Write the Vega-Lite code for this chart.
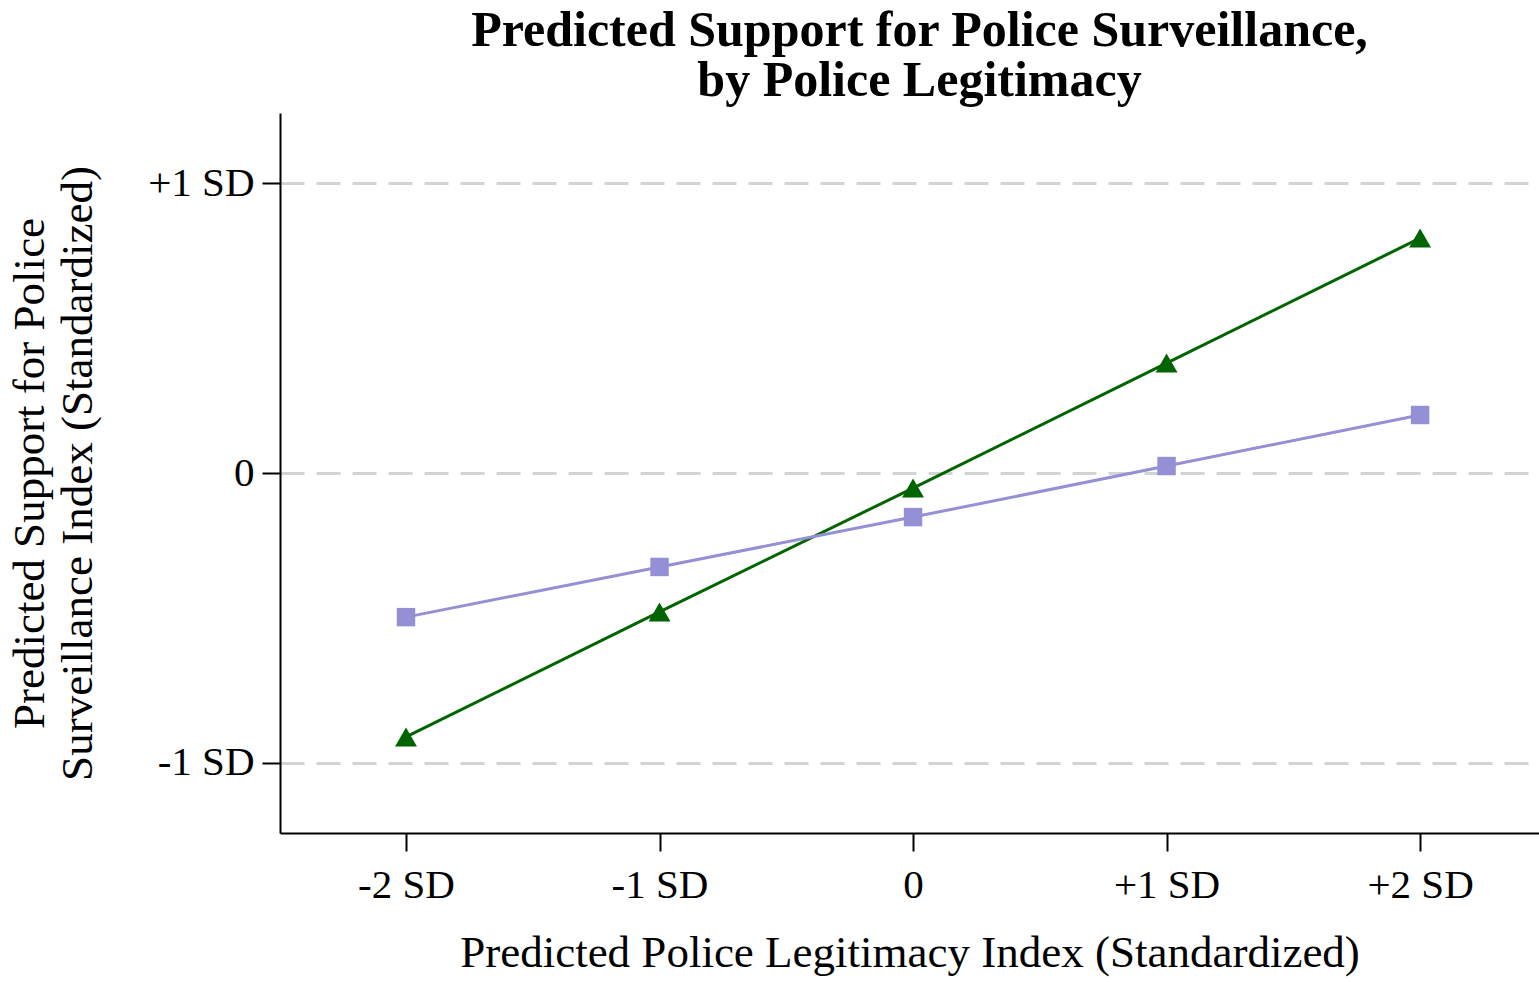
{
  "$schema": "https://vega.github.io/schema/vega-lite/v6.json",
  "autosize": {"type": "none"},
  "width": 1259,
  "height": 720,
  "padding": {"left": 280, "top": 113, "right": 0, "bottom": 149},
  "background": "white",
  "config": {
    "view": {"stroke": null},
    "font": "Liberation Serif"
  },
  "title": {
    "text": ["Predicted Support for Police Surveillance,", "by Police Legitimacy"],
    "font": "Liberation Serif",
    "fontSize": 50,
    "fontWeight": "bold",
    "color": "black",
    "anchor": "middle",
    "lineHeight": 50,
    "offset": 7,
    "dx": 10
  },
  "data": {
    "values": [
      {"x": -2, "y": -0.91, "group": "A"},
      {"x": -1, "y": -0.479, "group": "A"},
      {"x": 0, "y": -0.052, "group": "A"},
      {"x": 1, "y": 0.379, "group": "A"},
      {"x": 2, "y": 0.81, "group": "A"},
      {"x": -2, "y": -0.497, "group": "B"},
      {"x": -1, "y": -0.324, "group": "B"},
      {"x": 0, "y": -0.152, "group": "B"},
      {"x": 1, "y": 0.024, "group": "B"},
      {"x": 2, "y": 0.2, "group": "B"}
    ]
  },
  "encoding": {
    "x": {
      "field": "x",
      "type": "quantitative",
      "scale": {"domain": [-2.497, 2.469], "nice": false, "zero": false},
      "axis": {
        "values": [-2, -1, 0, 1, 2],
        "labelExpr": "datum.value == 0 ? '0' : (datum.value > 0 ? '+' + datum.value + ' SD' : datum.value + ' SD')",
        "title": "Predicted Police Legitimacy Index (Standardized)",
        "titleFont": "Liberation Serif",
        "titleFontSize": 45,
        "titleFontWeight": "normal",
        "titleColor": "black",
        "titlePadding": 25,
        "labelFont": "Liberation Serif",
        "labelFontSize": 41,
        "labelColor": "black",
        "labelPadding": 14,
        "labelFlush": false,
        "tickSize": 18,
        "tickWidth": 2,
        "tickColor": "black",
        "domainColor": "black",
        "domainWidth": 2,
        "grid": false
      }
    },
    "y": {
      "field": "y",
      "type": "quantitative",
      "scale": {"domain": [-1.2414, 1.2414], "nice": false, "zero": false},
      "axis": {
        "values": [-1, 0, 1],
        "labelExpr": "datum.value == 0 ? '0' : (datum.value > 0 ? '+1 SD' : '-1 SD')",
        "title": ["Predicted Support for Police", "Surveillance Index (Standardized)"],
        "titleFont": "Liberation Serif",
        "titleFontSize": 45,
        "titleFontWeight": "normal",
        "titleColor": "black",
        "titleLineHeight": 48,
        "titlePadding": 47,
        "labelFont": "Liberation Serif",
        "labelFontSize": 41,
        "labelColor": "black",
        "labelPadding": 8,
        "labelFlush": false,
        "tickSize": 18,
        "tickWidth": 2,
        "tickColor": "black",
        "domainColor": "black",
        "domainWidth": 2,
        "grid": true,
        "gridColor": "#d3d3d3",
        "gridWidth": 3,
        "gridDash": [24, 12]
      }
    },
    "color": {
      "field": "group",
      "type": "nominal",
      "scale": {"domain": ["A", "B"], "range": ["#006400", "#958fd6"]},
      "legend": null
    }
  },
  "layer": [
    {"mark": {"type": "line", "strokeWidth": 3}},
    {
      "mark": {"type": "point", "filled": true, "opacity": 1},
      "encoding": {
        "shape": {
          "field": "group",
          "type": "nominal",
          "scale": {"domain": ["A", "B"], "range": ["triangle-up", "square"]},
          "legend": null
        },
        "size": {
          "field": "group",
          "type": "nominal",
          "scale": {"domain": ["A", "B"], "range": [480, 340]},
          "legend": null
        }
      }
    }
  ]
}
